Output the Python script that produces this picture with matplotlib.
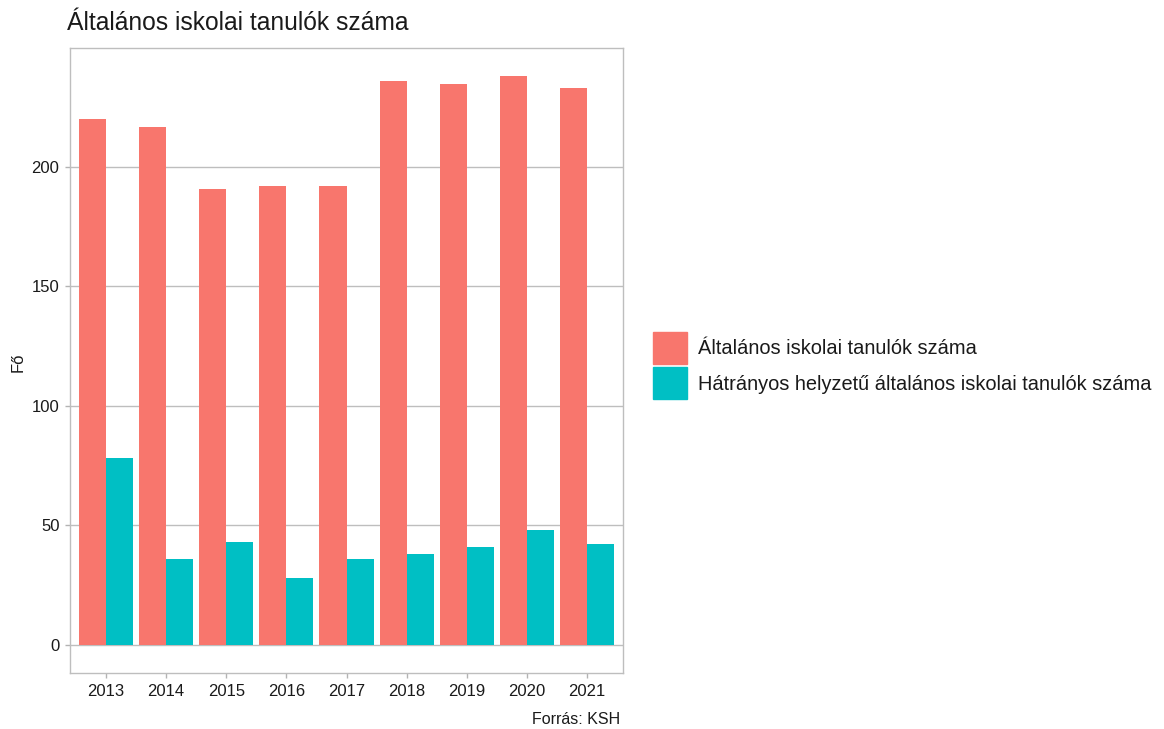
import matplotlib.pyplot as plt
import matplotlib.patches as mpatches
import numpy as np

plt.rcParams['font.family'] = ['Liberation Sans', 'DejaVu Sans']

# Data (fő)
years = ['2013', '2014', '2015', '2016', '2017', '2018', '2019', '2020', '2021']
osszes = [220, 217, 191, 192, 192, 236, 235, 238, 233]
hatranyos = [78, 36, 43, 28, 36, 38, 41, 48, 42]

labels = ['Általános iskolai tanulók száma',
          'Hátrányos helyzetű általános iskolai tanulók száma']
colors = ['#F8766D', '#00BFC4']

W, H = 1164, 729
fig = plt.figure(figsize=(W / 100, H / 100), dpi=100)
ax = fig.add_axes([70 / W, 1 - 673 / H, (623 - 70) / W, (673 - 48) / H])

x = np.arange(len(years))
bw = 0.45
ax.bar(x - bw / 2, osszes, width=bw, color=colors[0], zorder=2)
ax.bar(x + bw / 2, hatranyos, width=bw, color=colors[1], zorder=2)

# ggplot-like expansion
ymax = max(osszes)
ax.set_ylim(-0.05 * ymax, 1.05 * ymax)
ax.set_xlim(-0.6, len(years) - 1 + 0.6)

ax.set_xticks(x)
ax.set_xticklabels(years)
ax.set_yticks([0, 50, 100, 150, 200])
ax.tick_params(axis='both', labelsize=12, colors='#b3b3b3', labelcolor='#1a1a1a',
               length=3.6, width=1, pad=4)
ax.grid(axis='y', color='#bebebe', linewidth=1, zorder=0)
for s in ax.spines.values():
    s.set_color('#bebebe')
    s.set_linewidth(1)

fig.text(18 / W, 1 - 362 / H, 'Fő', fontsize=12, rotation=90,
         ha='center', va='center', color='#1a1a1a')
fig.text(67 / W, 1 - 23 / H, 'Általános iskolai tanulók száma', fontsize=17.7,
         ha='left', va='center', color='#1a1a1a')
fig.text(620 / W, 1 - 720 / H, 'Forrás: KSH', fontsize=11.5, ha='right',
         va='center', color='#1a1a1a')

# legend drawn by hand: square keys stacked tightly like ggplot
key_w, key_h = 34 / W, 32 / H
for i, (lab, c) in enumerate(zip(labels, colors)):
    top = 332 + i * 35
    fig.add_artist(mpatches.Rectangle((653 / W, 1 - (top + 32) / H), key_w, key_h,
                                      transform=fig.transFigure, color=c))
    fig.text(698 / W, 1 - (top + 17) / H, lab, fontsize=14.4, ha='left',
             va='center', color='#1a1a1a')

plt.savefig('out.png', dpi=100)
